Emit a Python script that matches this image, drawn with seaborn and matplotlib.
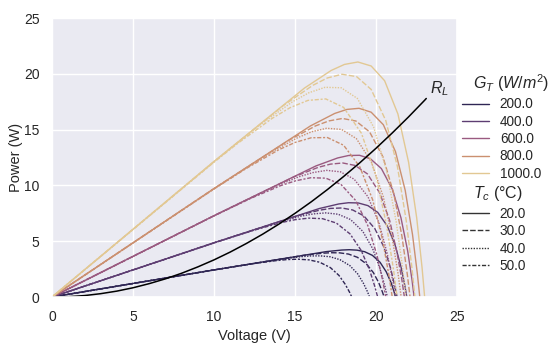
import numpy as np
import pandas as pd
import matplotlib
matplotlib.use("Agg")
import matplotlib.pyplot as plt
from matplotlib.offsetbox import HPacker, DrawingArea, TextArea
import seaborn as sns

# Irradiance levels and cell temperatures
irradiance = [1000.0, 800.0, 600.0, 400.0, 200.0]
temperature = [20.0, 30.0, 40.0, 50.0]
irradiance_colors = ["#e2c893", "#cb9070", "#9a5a80", "#5d3d72", "#2f2654"]

# P-V curves (voltage V, power W)
v_1000_20 = [0, 10, 15.58, 17.23, 18.05, 18.88, 19.7, 20.53, 21.35, 22.01, 22.51, 22.84, 23.0]
p_1000_20 = [0, 12.15, 18.72, 20.30, 20.84, 21.06, 20.70, 19.38, 16.40, 12.07, 7.09, 2.64, 0]
v_1000_30 = [0, 10, 14.3, 16.1, 17.0, 17.9, 18.8, 19.7, 20.6, 21.32, 21.86, 22.22, 22.4]
p_1000_30 = [0, 12.14, 17.18, 18.97, 19.63, 19.96, 19.75, 18.60, 15.82, 11.69, 6.88, 2.57, 0]
v_1000_40 = [0, 10, 12.85, 14.85, 15.85, 16.85, 17.85, 18.85, 19.85, 20.65, 21.25, 21.65, 21.85]
p_1000_40 = [0, 12.12, 15.44, 17.50, 18.30, 18.79, 18.75, 17.79, 15.24, 11.32, 6.69, 2.50, 0]
v_1000_50 = [0, 10, 11.4, 13.6, 14.7, 15.8, 16.9, 18.0, 19.1, 19.98, 20.64, 21.08, 21.3]
p_1000_50 = [0, 12.08, 13.70, 16.02, 16.97, 17.62, 17.75, 16.99, 14.67, 10.95, 6.50, 2.44, 0]

v_800_20 = [0, 10, 15.95, 17.45, 18.2, 18.95, 19.7, 20.45, 21.2, 21.8, 22.25, 22.55, 22.7]
p_800_20 = [0, 9.72, 15.33, 16.45, 16.81, 16.91, 16.56, 15.44, 13.03, 9.56, 5.61, 2.09, 0]
v_800_30 = [0, 10, 14.59, 16.26, 17.09, 17.93, 18.76, 19.6, 20.43, 21.1, 21.6, 21.93, 22.1]
p_800_30 = [0, 9.72, 14.02, 15.33, 15.78, 16.00, 15.77, 14.80, 12.55, 9.25, 5.44, 2.03, 0]
v_800_40 = [0, 10, 13.27, 15.11, 16.03, 16.95, 17.87, 18.79, 19.71, 20.45, 21.0, 21.37, 21.55]
p_800_40 = [0, 9.70, 12.76, 14.24, 14.81, 15.12, 15.02, 14.19, 12.11, 8.97, 5.29, 1.98, 0]
v_800_50 = [0, 10, 12.0, 14.0, 15.0, 16.0, 17.0, 18.0, 19.0, 19.8, 20.4, 20.8, 21.0]
p_800_50 = [0, 9.68, 11.53, 13.20, 13.85, 14.27, 14.29, 13.60, 11.67, 8.68, 5.14, 1.92, 0]

v_600_20 = [0, 10, 16.28, 17.63, 18.3, 18.98, 19.65, 20.33, 21.0, 21.54, 21.95, 22.22, 22.35]
p_600_20 = [0, 7.29, 11.74, 12.46, 12.68, 12.70, 12.39, 11.51, 9.68, 7.09, 4.15, 1.54, 0]
v_600_30 = [0, 10, 14.91, 16.43, 17.19, 17.95, 18.71, 19.47, 20.23, 20.84, 21.29, 21.6, 21.75]
p_600_30 = [0, 7.29, 10.75, 11.62, 11.91, 12.01, 11.79, 11.03, 9.32, 6.86, 4.02, 1.50, 0]
v_600_40 = [0, 10, 13.55, 15.25, 16.1, 16.95, 17.8, 18.65, 19.5, 20.18, 20.69, 21.03, 21.2]
p_600_40 = [0, 7.28, 9.77, 10.78, 11.15, 11.35, 11.22, 10.56, 8.99, 6.64, 3.91, 1.46, 0]
v_600_50 = [0, 10, 12.28, 14.13, 15.05, 15.98, 16.9, 17.83, 18.75, 19.49, 20.05, 20.42, 20.6]
p_600_50 = [0, 7.27, 8.85, 9.99, 10.42, 10.69, 10.65, 10.10, 8.64, 6.41, 3.79, 1.42, 0]

v_400_20 = [0, 10, 16.5, 17.7, 18.3, 18.9, 19.5, 20.1, 20.7, 21.18, 21.54, 21.78, 21.9]
p_400_20 = [0, 4.86, 7.93, 8.34, 8.45, 8.43, 8.19, 7.59, 6.36, 4.64, 2.71, 1.01, 0]
v_400_30 = [0, 10, 15.14, 16.51, 17.19, 17.88, 18.56, 19.25, 19.93, 20.48, 20.89, 21.16, 21.3]
p_400_30 = [0, 4.86, 7.28, 7.78, 7.94, 7.98, 7.80, 7.27, 6.12, 4.49, 2.63, 0.98, 0]
v_400_40 = [0, 10, 13.86, 15.38, 16.14, 16.9, 17.66, 18.42, 19.18, 19.79, 20.24, 20.55, 20.7]
p_400_40 = [0, 4.86, 6.66, 7.25, 7.45, 7.54, 7.42, 6.95, 5.89, 4.34, 2.55, 0.95, 0]
v_400_50 = [0, 10, 12.45, 14.15, 15.0, 15.85, 16.7, 17.55, 18.4, 19.08, 19.59, 19.93, 20.1]
p_400_50 = [0, 4.85, 5.98, 6.67, 6.93, 7.07, 7.02, 6.63, 5.65, 4.18, 2.47, 0.92, 0]

v_200_20 = [0, 10, 16.93, 17.88, 18.35, 18.83, 19.3, 19.78, 20.25, 20.63, 20.92, 21.11, 21.2]
p_200_20 = [0, 2.43, 4.07, 4.21, 4.24, 4.20, 4.06, 3.73, 3.11, 2.26, 1.32, 0.49, 0]
v_200_30 = [0, 10, 15.55, 16.65, 17.2, 17.75, 18.3, 18.85, 19.4, 19.84, 20.17, 20.39, 20.5]
p_200_30 = [0, 2.43, 3.74, 3.92, 3.97, 3.96, 3.85, 3.56, 2.98, 2.18, 1.27, 0.47, 0]
v_200_40 = [0, 10, 14.11, 15.33, 15.94, 16.55, 17.16, 17.77, 18.38, 18.87, 19.23, 19.48, 19.6]
p_200_40 = [0, 2.43, 3.39, 3.61, 3.68, 3.69, 3.61, 3.35, 2.82, 2.07, 1.21, 0.45, 0]
v_200_50 = [0, 10, 12.56, 13.88, 14.54, 15.2, 15.86, 16.52, 17.18, 17.71, 18.1, 18.37, 18.5]
p_200_50 = [0, 2.43, 3.02, 3.27, 3.36, 3.39, 3.33, 3.12, 2.64, 1.94, 1.14, 0.42, 0]

# Load line R_L
v_load = [0, 1, 2, 3, 4, 5, 6, 7, 8, 9, 10, 11, 12, 13, 14, 15, 16, 17, 18, 19, 20, 21, 22, 23, 23.1]
p_load = [0, 0.03, 0.13, 0.3, 0.53, 0.83, 1.2, 1.63, 2.13, 2.7, 3.33, 4.03, 4.8, 5.63, 6.53,
          7.5, 8.53, 9.63, 10.8, 12.03, 13.33, 14.7, 16.13, 17.63, 17.79]

curves = {
    (1000.0, 20.0): (v_1000_20, p_1000_20), (1000.0, 30.0): (v_1000_30, p_1000_30),
    (1000.0, 40.0): (v_1000_40, p_1000_40), (1000.0, 50.0): (v_1000_50, p_1000_50),
    (800.0, 20.0): (v_800_20, p_800_20), (800.0, 30.0): (v_800_30, p_800_30),
    (800.0, 40.0): (v_800_40, p_800_40), (800.0, 50.0): (v_800_50, p_800_50),
    (600.0, 20.0): (v_600_20, p_600_20), (600.0, 30.0): (v_600_30, p_600_30),
    (600.0, 40.0): (v_600_40, p_600_40), (600.0, 50.0): (v_600_50, p_600_50),
    (400.0, 20.0): (v_400_20, p_400_20), (400.0, 30.0): (v_400_30, p_400_30),
    (400.0, 40.0): (v_400_40, p_400_40), (400.0, 50.0): (v_400_50, p_400_50),
    (200.0, 20.0): (v_200_20, p_200_20), (200.0, 30.0): (v_200_30, p_200_30),
    (200.0, 40.0): (v_200_40, p_200_40), (200.0, 50.0): (v_200_50, p_200_50),
}

G_COL = r"$G_T$ $(W/m^2)$"
T_COL = r"$T_c$ (°C)"
rows = []
for G in irradiance:
    for T in temperature:
        vs, ps = curves[(G, T)]
        for v, p in zip(vs, ps):
            rows.append({"Voltage (V)": v, "Power (W)": p, G_COL: G, T_COL: T})
df = pd.DataFrame(rows)

sns.set_theme(style="darkgrid", rc={
    "axes.labelsize": 10.5, "xtick.labelsize": 10, "ytick.labelsize": 10,
    "legend.fontsize": 9.8, "legend.title_fontsize": 11,
})
plt.rcParams["font.family"] = ["Liberation Sans", "DejaVu Sans"]
plt.rcParams["mathtext.fontset"] = "custom"
plt.rcParams["mathtext.rm"] = "Liberation Sans"
plt.rcParams["mathtext.it"] = "Liberation Sans:italic"
plt.rcParams["mathtext.bf"] = "Liberation Sans:bold"

fig = plt.figure(figsize=(5.5, 3.43), dpi=100)
ax = fig.add_axes([0.0945, 0.134, 0.7365, 0.8135])

palette = dict(zip(irradiance, irradiance_colors))
sns.lineplot(data=df, x="Voltage (V)", y="Power (W)", hue=G_COL, style=T_COL,
             palette=palette, estimator=None, sort=False, linewidth=1.0,
             ax=ax, legend="full")
sns.lineplot(x=v_load, y=p_load, color="black", linewidth=1.1, ax=ax,
             estimator=None, sort=False, legend=False)
ax.text(23.3, 18.7, r"$R_L$", ha="left", va="center", fontsize=11.5)

ax.set_xlim(0, 25)
ax.set_ylim(0, 25)
ax.set_xticks([0, 5, 10, 15, 20, 25])
ax.set_yticks([0, 5, 10, 15, 20, 25])
ax.tick_params(pad=3)
ax.yaxis.labelpad = 0.5

sns.move_legend(ax, "upper left", bbox_to_anchor=(0.988, 0.84), frameon=False,
                labelspacing=0.25, handlelength=2.0, handletextpad=0.8,
                borderaxespad=0.3)

# Make the subtitle rows look like titles (no handle space, larger text)
leg = ax.get_legend()
subtitles = {G_COL, T_COL}
for hp in leg.findobj(HPacker):
    kids = hp.get_children()
    if len(kids) == 2 and isinstance(kids[0], DrawingArea) and isinstance(kids[1], TextArea):
        if kids[1].get_text() in subtitles:
            kids[0].set_width(0)
            for art in kids[0].get_children():
                art.set_visible(False)
            kids[1]._text.set_fontsize(11.5)

fig.savefig("out.png", dpi=100)
